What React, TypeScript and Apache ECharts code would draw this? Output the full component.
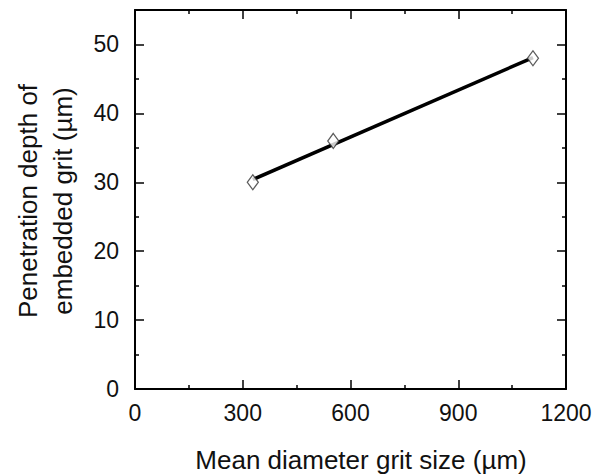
import React, { useEffect, useRef } from "react";
import * as echarts from "echarts";

const gritSize = [328, 552, 1108];
const depth = [30, 36, 48];
const fitX = [328, 1108];
const fitY = [30.4, 48.1];
const xTicks = [0, 300, 600, 900, 1200];
const yMajor = [0, 10, 20, 30, 40, 50];
const yMinor = [5, 15, 25, 35, 45];

const FONT = "Liberation Sans, Arial, sans-serif";

export default function App() {
  const ref = useRef<HTMLDivElement>(null);
  useEffect(() => {
    if (!ref.current) return;
    const chart = echarts.init(ref.current, null, { renderer: "svg" });
    const lineStyle = { color: "#000", width: 2 };
    const yBase = (pos: "left" | "right", ticks: number[], len: number, labels: boolean, line: boolean) => ({
      type: "value" as const,
      position: pos,
      min: 0,
      max: 55,
      interval: 5,
      splitLine: { show: false },
      axisLine: { show: line, onZero: false, lineStyle },
      axisTick: { show: true, inside: true, length: len, customValues: ticks, lineStyle: { color: "#000", width: 1.5 } },
      axisLabel: labels
        ? { show: true, customValues: yMajor, color: "#111", fontSize: 23, fontFamily: FONT, margin: 16 }
        : { show: false },
    });
    const xBase = (pos: "bottom" | "top", labels: boolean) => ({
      type: "value" as const,
      position: pos,
      min: xTicks[0],
      max: xTicks[xTicks.length - 1],
      interval: 300,
      splitLine: { show: false },
      axisLine: { show: true, onZero: false, lineStyle },
      axisTick: { show: true, inside: true, length: 9, lineStyle: { color: "#000", width: 1.5 } },
      minorTick: { show: true, splitNumber: 2, length: 4, lineStyle: { color: "#000", width: 1.5 } },
      axisLabel: labels
        ? { show: true, color: "#111", fontSize: 23, fontFamily: FONT, margin: 12, formatter: (v: number) => String(v) }
        : { show: false },
    });
    chart.setOption({
      animation: false,
      grid: { left: 135, right: 34, top: 10, bottom: 86, containLabel: false },
      xAxis: [xBase("bottom", true), xBase("top", false)],
      yAxis: [
        yBase("left", yMajor, 9, true, true),
        yBase("left", yMinor, 4, false, false),
        yBase("right", yMajor, 9, false, true),
        yBase("right", yMinor, 4, false, false),
      ],
      series: [
        {
          type: "line",
          xAxisIndex: 0,
          yAxisIndex: 0,
          data: fitX.map((x, i) => [x, fitY[i]]),
          showSymbol: false,
          symbol: "none",
          lineStyle: { color: "#000", width: 3.5 },
          z: 2,
        },
        {
          type: "scatter",
          xAxisIndex: 0,
          yAxisIndex: 0,
          data: gritSize.map((x, i) => [x, depth[i]]),
          symbol: "diamond",
          symbolSize: [11, 15],
          itemStyle: { color: "#fff", borderColor: "#333", borderWidth: 1.3 },
          z: 3,
        },
      ],
      graphic: [
        {
          type: "text",
          x: 361,
          y: 460,
          style: {
            text: "Mean diameter grit size (µm)",
            x: 0,
            y: 0,
            align: "center",
            verticalAlign: "middle",
            fontSize: 26,
            fontFamily: FONT,
            fill: "#111",
          },
        },
        {
          type: "text",
          x: 45,
          y: 201,
          rotation: Math.PI / 2,
          style: {
            text: "Penetration depth of\nembedded grit (µm)",
            x: 0,
            y: 0,
            align: "center",
            verticalAlign: "middle",
            fontSize: 26,
            lineHeight: 35,
            fontFamily: FONT,
            fill: "#111",
          },
        },
      ],
    });
    return () => chart.dispose();
  }, []);
  return (
    <div
      ref={ref}
      style={{ position: "fixed", left: 0, top: 0, width: 600, height: 475, background: "#fff" }}
    />
  );
}
